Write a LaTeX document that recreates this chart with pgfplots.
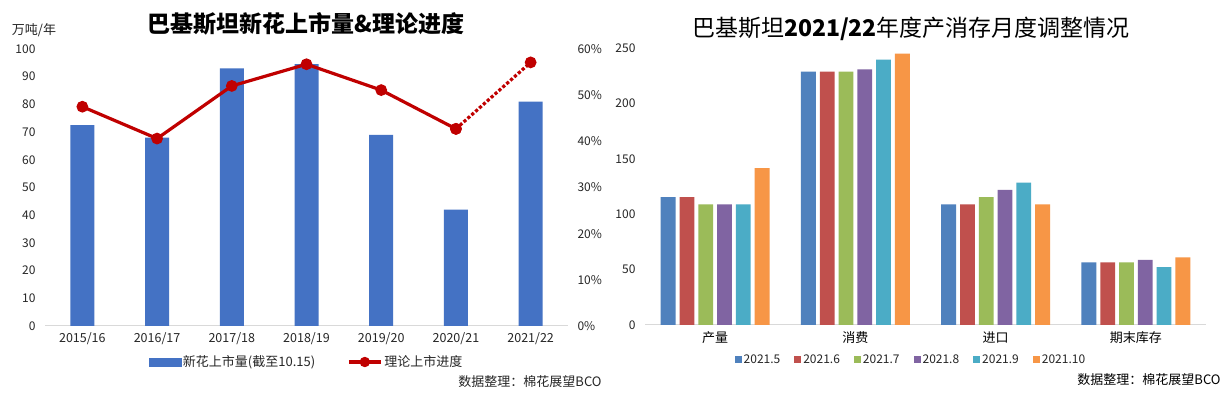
\documentclass[border=0pt]{standalone}
\usepackage{pgfplots}
\pgfplotsset{compat=1.18}
\usepackage{fontspec}
\setmainfont{Noto Sans CJK SC}
\definecolor{barblue}{HTML}{4472C4}
\definecolor{linered}{HTML}{C00000}
\definecolor{cA}{HTML}{4F81BD}
\definecolor{cB}{HTML}{C0504D}
\definecolor{cC}{HTML}{9BBB59}
\definecolor{cD}{HTML}{8064A2}
\definecolor{cE}{HTML}{4BACC6}
\definecolor{cF}{HTML}{F79646}
\definecolor{axisgray}{HTML}{D9D9D9}
\newcommand\fs[1]{\fontsize{#1}{#1}\selectfont}
\begin{document}
\begin{tikzpicture}
\path[use as bounding box, fill=white] (0,0) rectangle (1225pt,395pt);
% ---------------- left chart: bars ----------------
\begin{axis}[
  at={(45pt,69pt)}, anchor=south west,
  scale only axis, width=523pt, height=277pt,
  xmin=-0.5, xmax=6.5, ymin=0, ymax=100,
  xtick={0,...,6},
  xticklabels={2015/16,2016/17,2017/18,2018/19,2019/20,2020/21,2021/22},
  ytick={0,10,...,100},
  axis x line*=bottom, axis y line*=left,
  x axis line style={-, draw=axisgray, line width=1pt},
  y axis line style={draw=none},
  major tick length=0pt,
  tick style={draw=none},
  /pgf/number format/assume math mode=true,
  xticklabel style={font=\fs{12.5}, text=black!85, yshift=-3pt},
  yticklabel style={font=\fs{12}, text=black!85, xshift=-6pt},
  clip=false,
]
\addplot[ybar, bar width=24pt, fill=barblue, draw=none] coordinates {
 (0,72.5) (1,68) (2,93) (3,94.5) (4,69) (5,42) (6,81)};
\end{axis}
% ---------------- left chart: line (right axis) ----------------
\begin{axis}[
  at={(45pt,69pt)}, anchor=south west,
  scale only axis, width=523pt, height=277pt,
  xmin=-0.5, xmax=6.5, ymin=0, ymax=60,
  ytick={0,10,...,60},
  yticklabel={\pgfmathprintnumber{\tick}\%},
  axis x line=none, axis y line*=right,
  y axis line style={draw=none},
  major tick length=0pt, tick style={draw=none},
  /pgf/number format/assume math mode=true,
  yticklabel style={font=\fs{12}, text=black!85, xshift=6pt},
  clip=false,
  legend columns=2,
  legend style={at={(0.5,-0.13)}, anchor=center, draw=none, fill=none,
    font=\fs{13}, text=black!85,
    /tikz/every even column/.append style={column sep=30pt}},
]
\addlegendimage{legend image code/.code={\fill[barblue] (0pt,-4pt) rectangle (32pt,4pt);}}
\addlegendentry{新花上市量(截至10.15)}
\addplot[linered, line width=3.2pt, mark=*, mark size=4.2pt,
  mark options={fill=linered, draw=linered, solid},
  legend image code/.code={\draw[linered, line width=3.2pt] (0pt,0pt) -- (32pt,0pt);
     \fill[linered] (16pt,0pt) circle (3.5pt);}]
  coordinates {(0,47.5) (1,40.6) (2,52) (3,56.7) (4,51.1) (5,42.7)};
\addlegendentry{理论上市进度}
\addplot[linered, line width=3.2pt, dotted, mark=*, mark size=4.2pt,
  mark options={fill=linered, draw=linered, solid}, forget plot]
  coordinates {(5,42.7) (6,57.1)};
\end{axis}
% ---------------- right chart ----------------
\begin{axis}[
  at={(645pt,70pt)}, anchor=south west,
  scale only axis, width=561pt, height=277pt,
  xmin=-0.5, xmax=3.5, ymin=0, ymax=250,
  xtick={0,...,3}, xticklabels={产量,消费,进口,期末库存},
  ytick={0,50,...,250},
  axis x line*=bottom, axis y line*=left,
  x axis line style={-, draw=axisgray, line width=1pt},
  y axis line style={draw=none},
  major tick length=0pt, tick style={draw=none},
  /pgf/number format/assume math mode=true,
  xticklabel style={font=\fs{13}, text=black, yshift=-3pt},
  yticklabel style={font=\fs{12}, text=black!85, xshift=-6pt},
  ybar=4pt, bar width=14.8pt,
  clip=false,
  legend columns=6,
  legend style={at={(0.474,-0.126)}, anchor=center, draw=none, fill=none,
    font=\fs{12}, text=black!85,
    /tikz/every even column/.append style={column sep=12pt}},
  legend image code/.code={\fill[#1] (0pt,-3.5pt) rectangle (7pt,3.5pt);},
]
\addplot[fill=cA, draw=none] coordinates {(0,115.4) (1,228.6) (2,108.9) (3,56.6)};
\addlegendentry{2021.5}
\addplot[fill=cB, draw=none] coordinates {(0,115.4) (1,228.6) (2,108.9) (3,56.6)};
\addlegendentry{2021.6}
\addplot[fill=cC, draw=none] coordinates {(0,108.9) (1,228.6) (2,115.4) (3,56.6)};
\addlegendentry{2021.7}
\addplot[fill=cD, draw=none] coordinates {(0,108.9) (1,230.8) (2,121.9) (3,58.8)};
\addlegendentry{2021.8}
\addplot[fill=cE, draw=none] coordinates {(0,108.9) (1,239.5) (2,128.5) (3,52.3)};
\addlegendentry{2021.9}
\addplot[fill=cF, draw=none] coordinates {(0,141.5) (1,245.0) (2,108.9) (3,61.0)};
\addlegendentry{2021.10}
\end{axis}
% ---------------- texts ----------------
\node[font=\bfseries\fs{23}] at (306pt,371pt) {巴基斯坦新花上市量\&理论进度};
\node[font=\fs{13}, text=black!85] at (34pt,365pt) {万吨/年};
\node[font=\fs{13}, text=black!85] at (530pt,13pt) {数据整理：棉花展望BCO};
\node[font=\fs{23}] at (911pt,366pt) {巴基斯坦\textbf{2021/22}年度产消存月度调整情况};
\node[font=\fs{13}] at (1149pt,15pt) {数据整理：棉花展望BCO};
\end{tikzpicture}
\end{document}
